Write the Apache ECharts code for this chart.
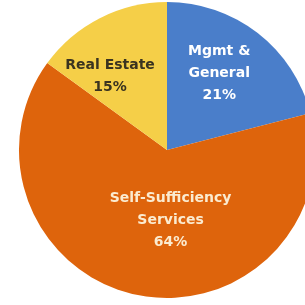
<!DOCTYPE html>
<html><head><meta charset="utf-8">
<script src="https://cdn.jsdelivr.net/npm/echarts@6/dist/echarts.min.js"></script>
<style>html,body{margin:0;padding:0;background:#fff}#c{width:305px;height:305px}</style>
</head><body><div id="c"></div>
<script>
const categories = ['Mgmt &\nGeneral', 'Self-Sufficiency\nServices', 'Real Estate'];
const values = [21, 64, 15];
const colors = ['#4A7ECA', '#DE640C', '#F5CF48'];
const labelColors = ['#FFFFFF', '#FBEBD0', '#3A3320'];
const labelShift = [[5, -16], [18, -5], [-22, -5]];

const chart = echarts.init(document.getElementById('c'), null, {renderer: 'canvas'});
chart.setOption({
  animation: false,
  series: [{
    type: 'pie',
    center: [167, 150],
    radius: 148,
    startAngle: 90,
    clockwise: true,
    label: {
      position: 'inner',
      formatter: p => p.name + '\n' + p.value + '%',
      fontFamily: 'DejaVu Sans, sans-serif',
      fontWeight: 'bold',
      fontSize: 14,
      lineHeight: 22,
      align: 'center'
    },
    labelLine: {show: false},
    labelLayout: p => ({dx: labelShift[p.dataIndex][0], dy: labelShift[p.dataIndex][1]}),
    itemStyle: {borderColor: '#fff', borderWidth: 0},
    data: categories.map((c, i) => ({
      name: c, value: values[i],
      itemStyle: {color: colors[i]},
      label: {color: labelColors[i]}
    }))
  }]
});
</script></body></html>
